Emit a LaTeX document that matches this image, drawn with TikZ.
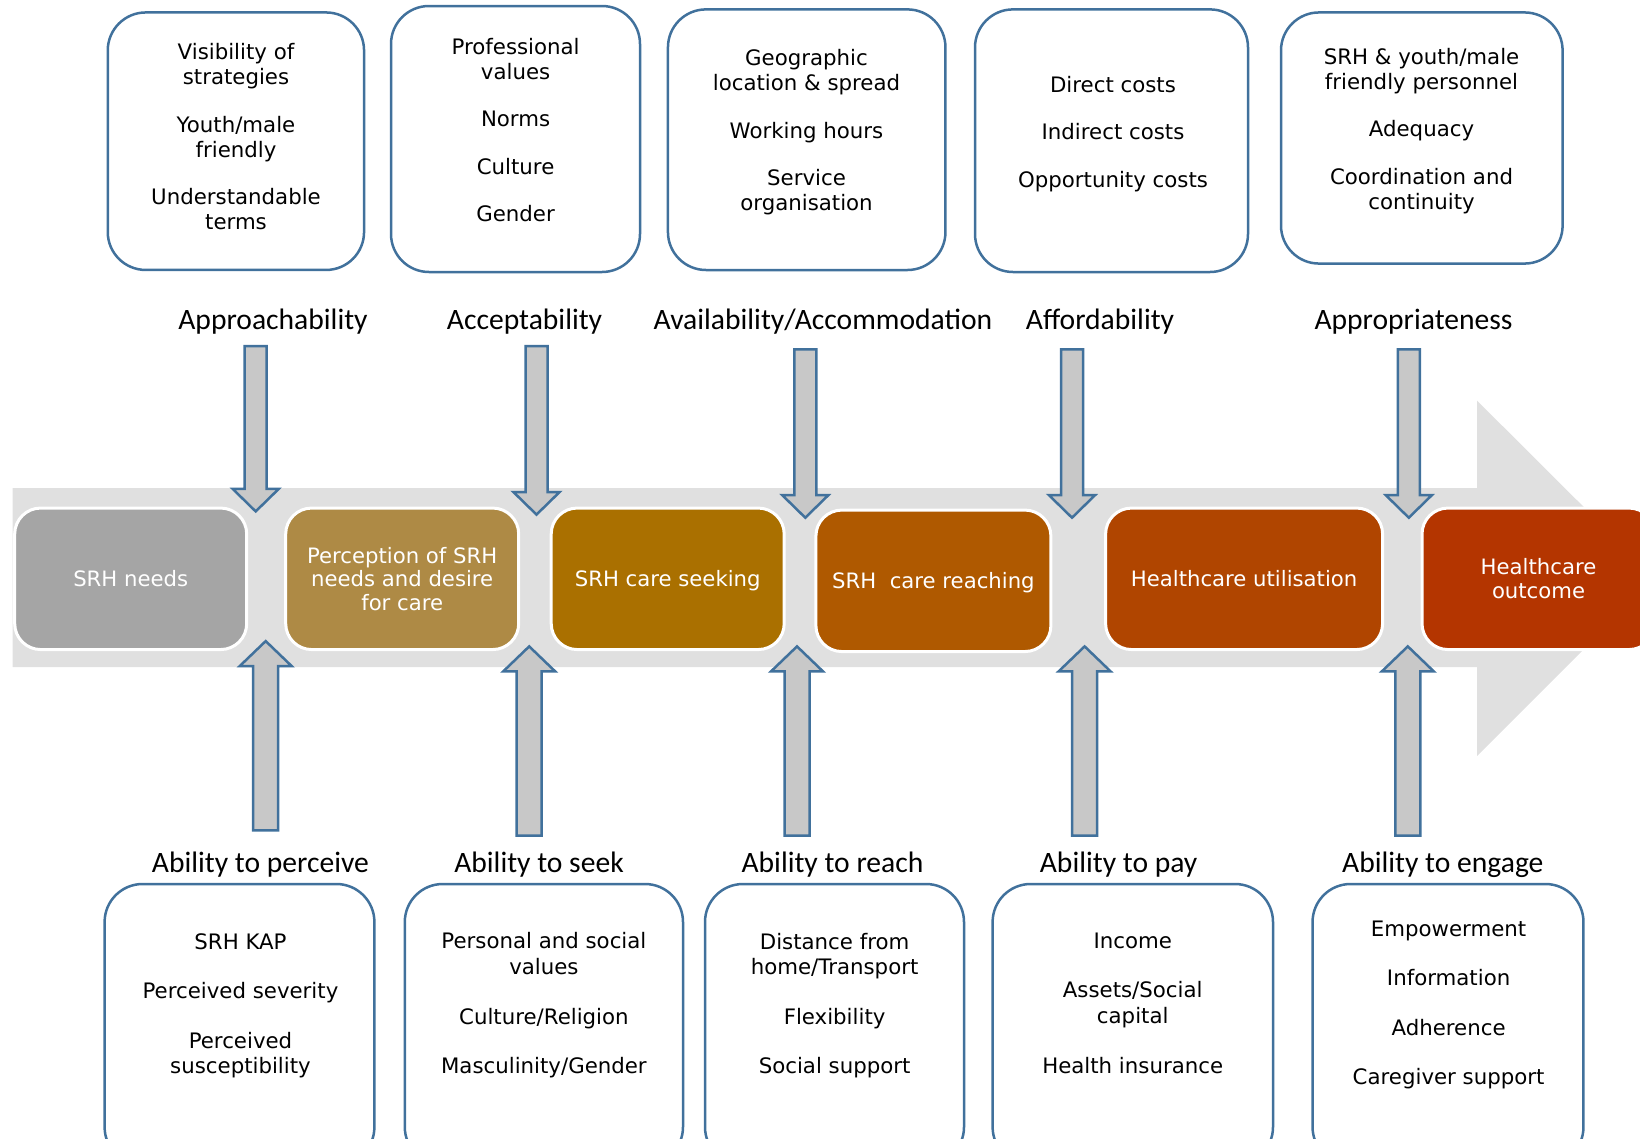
\documentclass[tikz,border=0pt]{standalone}
\usepackage{fontspec}
\setmainfont{DejaVu Sans}
\newfontfamily\headfont{Carlito}
\usetikzlibrary{calc}

\definecolor{boxblue}{RGB}{65,113,156}
\definecolor{arrowgray}{RGB}{200,200,200}
\definecolor{bandgray}{RGB}{224,224,224}
\definecolor{procA}{RGB}{165,165,165}
\definecolor{procB}{RGB}{174,138,69}
\definecolor{procC}{RGB}{170,112,0}
\definecolor{procD}{RGB}{175,89,0}
\definecolor{procE}{RGB}{176,69,0}
\definecolor{procF}{RGB}{180,53,0}

\tikzset{
	factbox/.style={draw=boxblue, line width=2.5pt, rounded corners=38pt, inner sep=0pt},
	facttext/.style={align=center, inner sep=0pt, font=\fontsize{21.3}{25}\selectfont},
	proc/.style={fill=#1, draw=white, line width=3pt, rounded corners=26pt, inner sep=0pt,
		minimum width=233pt, minimum height=141.5pt, text=white, align=center,
		font=\fontsize{21.2}{23.5}\selectfont},
	head/.style={anchor=base, inner sep=0pt, font=\headfont\fontsize{29.6}{34}\selectfont},
	barrow/.style={draw=boxblue, fill=arrowgray, line width=2.5pt, line join=miter},
}

% block arrows: #1 = tail, #2 = tip
\newcommand\arrowdown[2]{%
	\draw[barrow] ($(#1)+(-11,0)$) -- ($(#1)+(11,0)$) -- ($(#2)+(11,-22.5)$) -- ($(#2)+(23,-22.5)$)
		-- (#2) -- ($(#2)+(-23,-22.5)$) -- ($(#2)+(-11,-22.5)$) -- cycle;}
\newcommand\arrowup[2]{%
	\draw[barrow] ($(#1)+(-12.5,0)$) -- ($(#1)+(12.5,0)$) -- ($(#2)+(12.5,25)$) -- ($(#2)+(26,25)$)
		-- (#2) -- ($(#2)+(-26,25)$) -- ($(#2)+(-12.5,25)$) -- cycle;}

\begin{document}
\begin{tikzpicture}[x=1pt,y=-1pt]
	\useasboundingbox (0,0) rectangle (1640,1138);
	\clip (0,0) rectangle (1640,1138);

	% big grey arrow behind the steps
	\fill[bandgray] (12.5,488) -- (1477,488) -- (1477,400.6) -- (1655,578) -- (1477,756)
		-- (1477,667) -- (12.5,667) -- cycle;

	% steps
	\node[proc=procA, minimum width=232pt] (needs) at (130.7,578.8) {SRH needs};
	\node[proc=procB] (perception) at (402.2,578.8) {Perception of SRH\\needs and desire\\for care};
	\node[proc=procC, text depth=0pt] (seeking) at (667.7,578.8) {SRH care seeking};
	\node[proc=procD, text depth=0pt, minimum width=235pt] (reaching) at (933.4,580.8) {SRH\ \ care reaching};
	\node[proc=procE, minimum width=277pt] (utilisation) at (1244.1,578.8) {Healthcare utilisation};
	\node[proc=procF] (outcome) at (1538.5,578.8) {Healthcare\\outcome};

	% supply side
	\node[factbox, minimum width=256.3pt, minimum height=257.5pt] (approachbox) at (235.9,141.2) {};
	\node[facttext] (approachtxt) at (236,136.8) {Visibility of\\strategies\\[22.5pt]Youth/male\\friendly\\[22.5pt]Understandable\\terms};
	\node[factbox, minimum width=249pt, minimum height=266pt] (acceptbox) at (515.5,139) {};
	\node[facttext] (accepttxt) at (515.6,130) {Professional\\values\\[22.5pt]Norms\\[22.5pt]Culture\\[22.5pt]Gender};
	\node[factbox, minimum width=277.5pt, minimum height=260.6pt] (availbox) at (806.7,139.7) {};
	\node[facttext] (availtxt) at (806.5,132.5) {Geographic\\location \& spread\\[22.5pt]Working hours\\[22.5pt]Service\\organisation};
	\node[factbox, minimum width=273pt, minimum height=262.6pt] (affordbox) at (1111.5,140.7) {};
	\node[facttext] (affordtxt) at (1113,133.8) {Direct costs\\[22.5pt]Indirect costs\\[22.5pt]Opportunity costs};
	\node[factbox, minimum width=281.6pt, minimum height=251.1pt] (approprbox) at (1421.8,138) {};
	\node[facttext] (approprtxt) at (1421.5,130.8) {SRH \& youth/male\\friendly personnel\\[22.5pt]Adequacy\\[22.5pt]Coordination and\\continuity};

	\node[head] (approachhd) at (273,329) {Approachability};
	\node[head] (accepthd) at (524.5,329) {Acceptability};
	\node[head] (availhd) at (823,329) {Availability/Accommodation};
	\node[head] (affordhd) at (1100,329) {Affordability};
	\node[head] (approprhd) at (1413.5,329) {Appropriateness};

	% demand side
	\node[head] (perceivehd) at (260.4,872) {Ability to perceive};
	\node[head] (seekhd) at (539,872) {Ability to seek};
	\node[head] (reachhd) at (832.5,872) {Ability to reach};
	\node[head] (payhd) at (1118.6,872) {Ability to pay};
	\node[head] (engagehd) at (1442.8,872) {Ability to engage};

	\node[factbox, minimum width=269.8pt, minimum height=281pt] (perceivebox) at (239.5,1024.5) {};
	\node[facttext] (perceivetxt) at (240.5,1005.6) {SRH KAP\\[24.5pt]Perceived severity\\[24.5pt]Perceived\\susceptibility};
	\node[factbox, minimum width=278.2pt, minimum height=281pt] (seekbox) at (543.9,1024.5) {};
	\node[facttext] (seektxt) at (543.9,1005.2) {Personal and social\\[1pt]values\\[24.5pt]Culture/Religion\\[24.5pt]Masculinity/Gender};
	\node[factbox, minimum width=259pt, minimum height=281pt] (reachbox) at (834.5,1024.5) {};
	\node[facttext] (reachtxt) at (834.6,1006) {Distance from\\home/Transport\\[24.5pt]Flexibility\\[24.5pt]Social support};
	\node[factbox, minimum width=280.4pt, minimum height=281pt] (paybox) at (1132.8,1024.5) {};
	\node[facttext] (paytxt) at (1132.7,1003) {Income\\[24.5pt]Assets/Social\\[1pt]capital\\[24.5pt]Health insurance};
	\node[factbox, minimum width=270.9pt, minimum height=281pt] (engagebox) at (1448,1024.5) {};
	\node[facttext] (engagetxt) at (1448.6,1005) {Empowerment\\[24.5pt]Information\\[24.5pt]Adherence\\[24.5pt]Caregiver support};

	% arrows onto the pathway
	\foreach \n/\x/\ya/\yb in {1/255.7/346.2/511.4, 2/536.5/346.2/514.6, 3/805.3/349.3/517.7,
		4/1072/349.3/517.7, 5/1408.8/349.3/517.7} {
		\coordinate (dn\n) at (\x,\ya);
		\coordinate (dt\n) at (\x,\yb);
		\arrowdown{dn\n}{dt\n}
	}
	\foreach \n/\x/\ya/\yb in {1/265.7/830.4/641.1, 2/529.2/835.7/646.4, 3/797/835.7/646.4,
		4/1084.6/835.7/646.4, 5/1407.8/835.7/646.4} {
		\coordinate (up\n) at (\x,\ya);
		\coordinate (ut\n) at (\x,\yb);
		\arrowup{up\n}{ut\n}
	}
\end{tikzpicture}
\end{document}
